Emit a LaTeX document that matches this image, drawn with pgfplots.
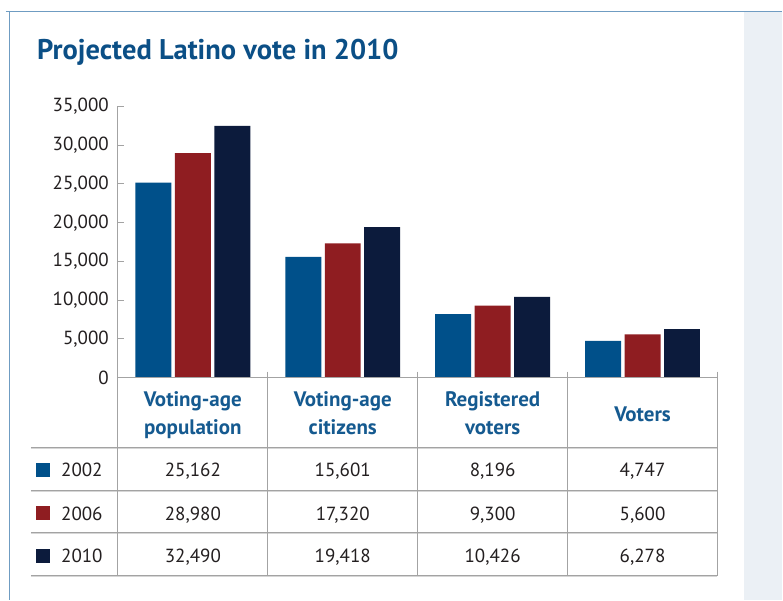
\documentclass[border=0pt]{standalone}
\usepackage{pgfplots}
\pgfplotsset{compat=1.18}
\usepackage{fontspec}
\setmainfont{PT Sans}
\definecolor{c02}{HTML}{00508A}
\definecolor{c06}{HTML}{8F1D21}
\definecolor{c10}{HTML}{0C1B3C}
\definecolor{titleblue}{HTML}{0B4F86}
\definecolor{hdrblue}{HTML}{155A90}
\definecolor{linegray}{HTML}{A3A3A3}
\definecolor{frameblue}{HTML}{6F9CC2}
\definecolor{panel}{HTML}{EBF0F5}
\definecolor{txt}{HTML}{231F20}
\begin{document}
\begin{tikzpicture}[x=1pt,y=1pt]
% background and frame
\fill[white] (0,0) rectangle (783,600);
\fill[panel] (745,0) rectangle (783,588);
\draw[frameblue, line width=1.2pt] (6,588.5) -- (783,588.5);
\draw[frameblue, line width=1.2pt] (9.5,0) -- (9.5,588.5);
\node[anchor=base west, inner sep=0, font=\fontsize{28.5}{32}\selectfont\bfseries, text=titleblue] at (37,540) {Projected Latino vote in 2010};

\begin{axis}[
  at={(118pt,222pt)}, anchor=south west,
  scale only axis, width=600pt, height=271.5pt,
  xmin=-0.5, xmax=3.5, ymin=0, ymax=35000,
  axis lines*=left,
  axis line style={linegray, line width=1pt},
  xtick=\empty,
  ytick={0,5000,...,35000},
  tick align=inside, major tick length=6pt,
  tick style={linegray, line width=1pt},
  scaled y ticks=false,
  /pgf/number format/.cd, 1000 sep={,}, assume math mode=true,
  /pgfplots/.cd,
  yticklabel style={font=\fontsize{19}{21}\selectfont, text=txt, inner xsep=0pt, xshift=-9pt},
  ybar=3.5pt, bar width=36pt,
  axis on top,
  clip=false,
]
\addplot[fill=c02, draw=none] coordinates {(0,25162) (1,15601) (2,8196) (3,4747)};
\addplot[fill=c06, draw=none] coordinates {(0,28980) (1,17320) (2,9300) (3,5600)};
\addplot[fill=c10, draw=none] coordinates {(0,32490) (1,19418) (2,10426) (3,6278)};
\end{axis}

% table lines
\foreach \yy in {152,109,67,24} {
  \draw[linegray!45, line width=1pt] (31,\yy-1.2) -- (718,\yy-1.2);
  \draw[linegray, line width=1pt] (31,\yy) -- (718,\yy);
}
\draw[linegray, line width=1pt] (118,222) -- (118,24);
\foreach \xx in {268,418,568,718} {
  \draw[linegray, line width=1pt] (\xx,228) -- (\xx,24);
}
% headers
\begin{scope}[every node/.style={anchor=base, inner sep=0, font=\fontsize{21}{24}\selectfont\bfseries, text=hdrblue}]
\node at (193,193) {Voting-age};
\node at (193,165) {population};
\node at (343,193) {Voting-age};
\node at (343,165) {citizens};
\node at (493,193) {Registered};
\node at (493,165) {voters};
\node at (643,178) {Voters};
\end{scope}
% legend squares and years
\fill[c02] (36,123) rectangle (50,137);
\fill[c06] (36,80) rectangle (50,94);
\fill[c10] (36,37) rectangle (50,51);
\begin{scope}[every node/.style={inner sep=0, font=\fontsize{19}{21}\selectfont, text=txt}]
\node[anchor=base west] at (61,123) {2002};
\node[anchor=base west] at (61,79) {2006};
\node[anchor=base west] at (61,37) {2010};
\node[anchor=base] at (193,123) {25,162};
\node[anchor=base] at (343,123) {15,601};
\node[anchor=base] at (493,123) {8,196};
\node[anchor=base] at (643,123) {4,747};
\node[anchor=base] at (193,79) {28,980};
\node[anchor=base] at (343,79) {17,320};
\node[anchor=base] at (493,79) {9,300};
\node[anchor=base] at (643,79) {5,600};
\node[anchor=base] at (193,37) {32,490};
\node[anchor=base] at (343,37) {19,418};
\node[anchor=base] at (493,37) {10,426};
\node[anchor=base] at (643,37) {6,278};
\end{scope}
\end{tikzpicture}
\end{document}
